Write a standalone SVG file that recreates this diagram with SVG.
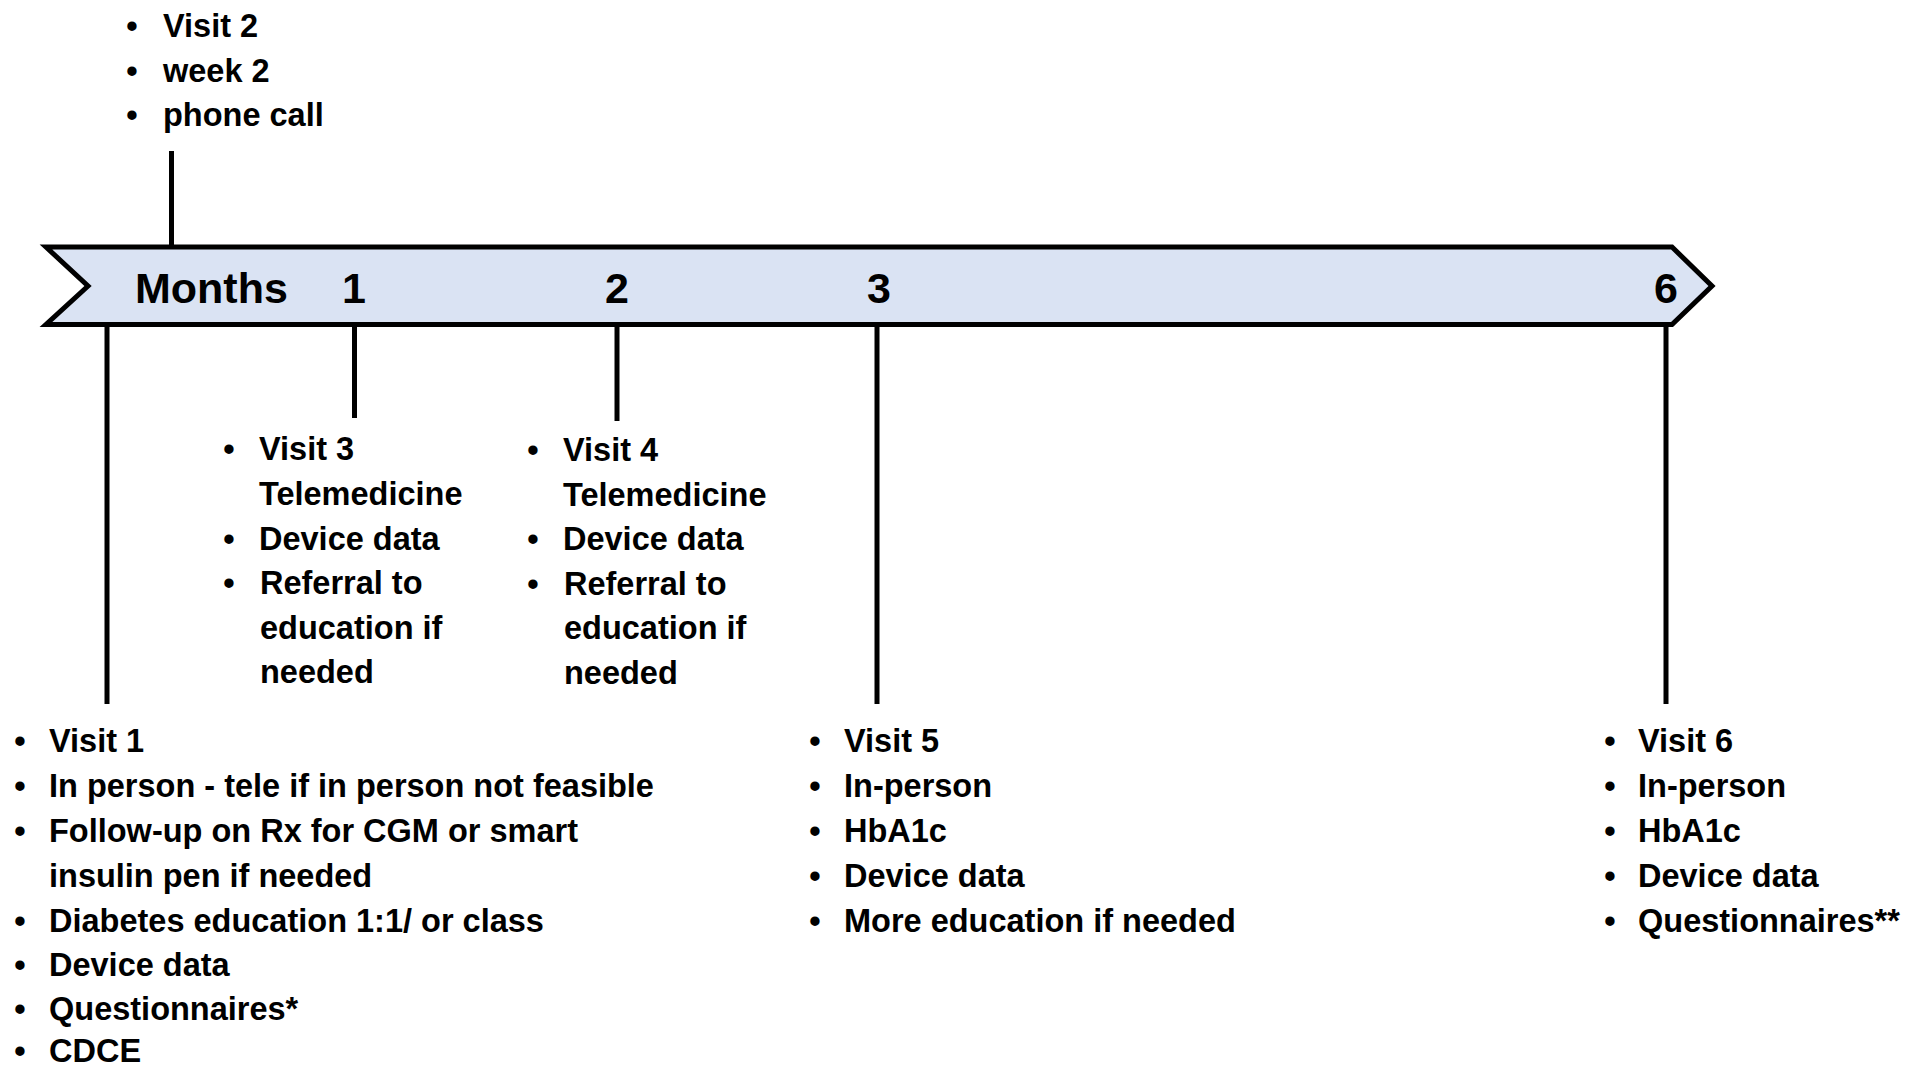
<svg xmlns="http://www.w3.org/2000/svg" width="1915" height="1067" viewBox="0 0 1915 1067">
  <style>
    .t { font-family: "Liberation Sans", Arial, sans-serif; font-weight: bold; font-size: 32.5px; fill: #000; }
    .m { font-family: "Liberation Sans", Arial, sans-serif; font-weight: bold; font-size: 43px; fill: #000; }
    .c { stroke: #000; stroke-width: 5; fill: none; }
  </style>
  <rect width="1915" height="1067" fill="#ffffff"/>

  <g id="connectors">
    <line class="c" x1="171.5" y1="151" x2="171.5" y2="247"/>
    <line class="c" x1="107" y1="325" x2="107" y2="704"/>
    <line class="c" x1="354.5" y1="325" x2="354.5" y2="418"/>
    <line class="c" x1="617" y1="325" x2="617" y2="421"/>
    <line class="c" x1="877" y1="325" x2="877" y2="704"/>
    <line class="c" x1="1666" y1="325" x2="1666" y2="704"/>
  </g>

  <g id="timeline">
    <polygon points="46,247 1672,247 1712,286 1672,324.5 46,324.5 88,286" fill="#DAE3F3" stroke="#000" stroke-width="5" stroke-linejoin="miter"/>
    <text class="m" x="135" y="303">Months</text>
    <text class="m" x="354" y="303" text-anchor="middle">1</text>
    <text class="m" x="617" y="303" text-anchor="middle">2</text>
    <text class="m" x="879" y="303" text-anchor="middle">3</text>
    <text class="m" x="1666" y="303" text-anchor="middle">6</text>
  </g>

  <g id="visit2">
    <text class="t" x="132" y="37" text-anchor="middle">•</text>
    <text class="t" x="163" y="37">Visit 2</text>
    <text class="t" x="132" y="82" text-anchor="middle">•</text>
    <text class="t" x="163" y="82">week 2</text>
    <text class="t" x="132" y="126" text-anchor="middle">•</text>
    <text class="t" x="163" y="126">phone call</text>
  </g>

  <g id="visit3">
    <text class="t" x="229" y="460" text-anchor="middle">•</text>
    <text class="t" x="259" y="460">Visit 3</text>
    <text class="t" x="259" y="505">Telemedicine</text>
    <text class="t" x="229" y="550" text-anchor="middle">•</text>
    <text class="t" x="259" y="550">Device data</text>
    <text class="t" x="229" y="594" text-anchor="middle">•</text>
    <text class="t" x="260" y="594">Referral to</text>
    <text class="t" x="260" y="639">education if</text>
    <text class="t" x="260" y="683">needed</text>
  </g>

  <g id="visit4">
    <text class="t" x="533" y="461" text-anchor="middle">•</text>
    <text class="t" x="563" y="461">Visit 4</text>
    <text class="t" x="563" y="506">Telemedicine</text>
    <text class="t" x="533" y="550" text-anchor="middle">•</text>
    <text class="t" x="563" y="550">Device data</text>
    <text class="t" x="533" y="595" text-anchor="middle">•</text>
    <text class="t" x="564" y="595">Referral to</text>
    <text class="t" x="564" y="639">education if</text>
    <text class="t" x="564" y="684">needed</text>
  </g>

  <g id="visit1">
    <text class="t" x="20" y="752" text-anchor="middle">•</text>
    <text class="t" x="49" y="752">Visit 1</text>
    <text class="t" x="20" y="797" text-anchor="middle">•</text>
    <text class="t" x="49" y="797">In person - tele if in person not feasible</text>
    <text class="t" x="20" y="842" text-anchor="middle">•</text>
    <text class="t" x="49" y="842">Follow-up on Rx for CGM or smart</text>
    <text class="t" x="49" y="887">insulin pen if needed</text>
    <text class="t" x="20" y="932" text-anchor="middle">•</text>
    <text class="t" x="49" y="932">Diabetes education 1:1/ or class</text>
    <text class="t" x="20" y="976" text-anchor="middle">•</text>
    <text class="t" x="49" y="976">Device data</text>
    <text class="t" x="20" y="1020" text-anchor="middle">•</text>
    <text class="t" x="49" y="1020">Questionnaires*</text>
    <text class="t" x="20" y="1062" text-anchor="middle">•</text>
    <text class="t" x="49" y="1062">CDCE</text>
  </g>

  <g id="visit5">
    <text class="t" x="815" y="752" text-anchor="middle">•</text>
    <text class="t" x="844" y="752">Visit 5</text>
    <text class="t" x="815" y="797" text-anchor="middle">•</text>
    <text class="t" x="844" y="797">In-person</text>
    <text class="t" x="815" y="842" text-anchor="middle">•</text>
    <text class="t" x="844" y="842">HbA1c</text>
    <text class="t" x="815" y="887" text-anchor="middle">•</text>
    <text class="t" x="844" y="887">Device data</text>
    <text class="t" x="815" y="932" text-anchor="middle">•</text>
    <text class="t" x="844" y="932">More education if needed</text>
  </g>

  <g id="visit6">
    <text class="t" x="1610" y="752" text-anchor="middle">•</text>
    <text class="t" x="1638" y="752">Visit 6</text>
    <text class="t" x="1610" y="797" text-anchor="middle">•</text>
    <text class="t" x="1638" y="797">In-person</text>
    <text class="t" x="1610" y="842" text-anchor="middle">•</text>
    <text class="t" x="1638" y="842">HbA1c</text>
    <text class="t" x="1610" y="887" text-anchor="middle">•</text>
    <text class="t" x="1638" y="887">Device data</text>
    <text class="t" x="1610" y="932" text-anchor="middle">•</text>
    <text class="t" x="1638" y="932">Questionnaires**</text>
  </g>
</svg>
